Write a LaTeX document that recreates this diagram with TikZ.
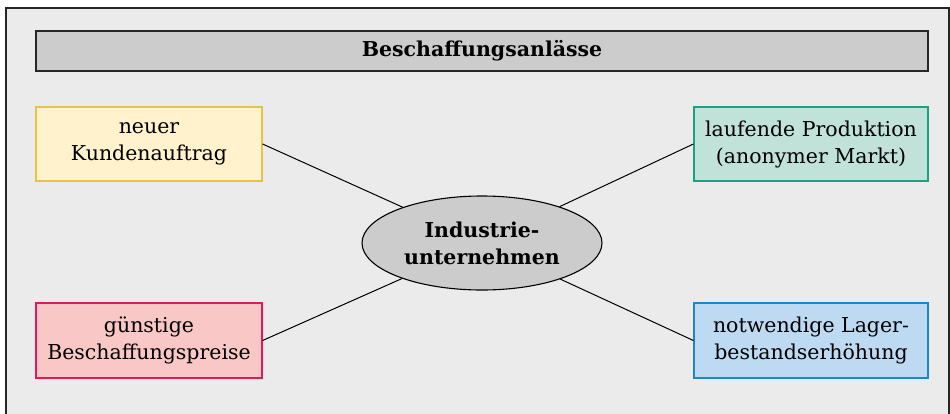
\documentclass[tikz,border=0pt]{standalone}
\usepackage{fontspec}
\setmainfont{DejaVu Serif}
\usepackage{tikz}
\usetikzlibrary{shapes.geometric,positioning}

\definecolor{bgrey}{HTML}{EBEBEB}
\definecolor{tgrey}{HTML}{CCCCCC}
\definecolor{yfill}{HTML}{FFF2CC}
\definecolor{ydraw}{HTML}{E6C24F}
\definecolor{gfill}{HTML}{C0E2D9}
\definecolor{gdraw}{HTML}{1E9E85}
\definecolor{rfill}{HTML}{F8C7C6}
\definecolor{rdraw}{HTML}{E0195A}
\definecolor{bfill}{HTML}{BDDAF2}
\definecolor{bdraw}{HTML}{1C86CC}

\begin{document}
\begin{tikzpicture}[x=1pt,y=-1pt,
  font=\fontsize{20.5}{27}\selectfont,
  anlass/.style={rectangle,draw,line width=1.2pt,align=center,inner sep=0pt,
    minimum height=74pt},
  firma/.style={ellipse,draw=black,fill=tgrey,line width=1.1pt,align=center,
    inner sep=0pt,minimum width=240pt,minimum height=94pt,font=\fontsize{20.5}{27}\selectfont\bfseries}]
   \useasboundingbox (0,0) rectangle (950,413);
   \clip (0,0) rectangle (950,413);
   % Rahmen
   \draw[fill=bgrey,draw=black!85,line width=1.4pt] (6,8) rectangle (949,430);
   \node[rectangle,draw=black!85,fill=tgrey,line width=1.3pt,minimum width=892pt,
     minimum height=40pt,inner sep=0pt,font=\fontsize{20.5}{27}\selectfont\bfseries]
     (titel) at (482,51) {Beschaffungsanlässe};

   \node[firma] (iu) at (482,243) {Industrie-\\unternehmen};

   \node[anlass,fill=yfill,draw=ydraw,minimum width=226pt] (kunde) at (149,144) {neuer\\Kundenauftrag};
   \node[anlass,fill=gfill,draw=gdraw,minimum width=234pt] (prod) at (811,144) {laufende Produktion\\(anonymer Markt)};
   \node[anlass,fill=rfill,draw=rdraw,minimum width=226pt,minimum height=75pt] (preis) at (149,340.5) {günstige\\Beschaffungspreise};
   \node[anlass,fill=bfill,draw=bdraw,minimum width=234pt,minimum height=75pt] (lager) at (811,340.5) {notwendige Lager-\\bestandserhöhung};

    \path[draw,line width=1pt]
    (kunde.east) -- (iu)
    (prod.west) -- (iu)
    (preis.east) -- (iu)
    (lager.west) -- (iu);
\end{tikzpicture}
\end{document}
